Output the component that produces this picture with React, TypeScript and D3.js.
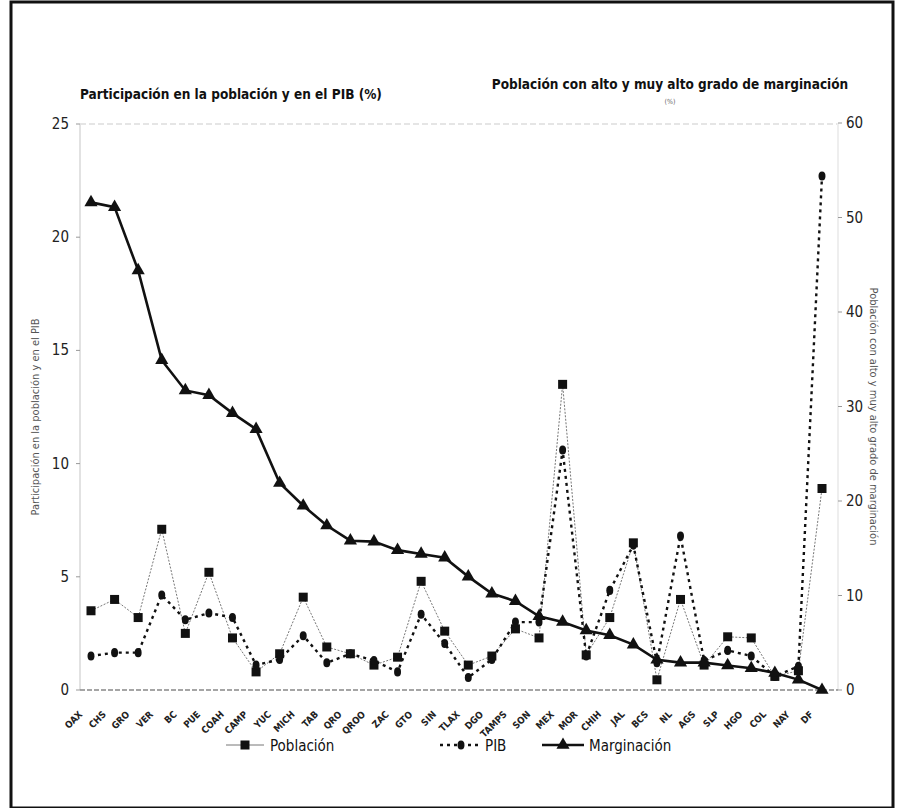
import React from "react";
import * as d3 from "d3";

const states = [
  "OAX", "CHS", "GRO", "VER", "BC", "PUE", "COAH", "CAMP", "YUC", "MICH", "TAB", "QRO",
  "QROO", "ZAC", "GTO", "SIN", "TLAX", "DGO", "TAMPS", "SON", "MEX", "MOR", "CHIH", "JAL",
  "BCS", "NL", "AGS", "SLP", "HGO", "COL", "NAY", "DF",
];

// Participación en la población (%)
const poblacion = [
  3.5, 4.0, 3.2, 7.1, 2.5, 5.2, 2.3, 0.8, 1.6, 4.1, 1.9, 1.6,
  1.1, 1.45, 4.8, 2.6, 1.1, 1.5, 2.7, 2.3, 13.5, 1.55, 3.2, 6.5,
  0.45, 4.0, 1.1, 2.35, 2.3, 0.6, 0.85, 8.9,
];

// Participación en el PIB (%)
const pib = [
  1.5, 1.65, 1.65, 4.2, 3.1, 3.4, 3.2, 1.1, 1.35, 2.4, 1.2, 1.6,
  1.3, 0.8, 3.35, 2.05, 0.55, 1.35, 3.0, 3.0, 10.6, 1.5, 4.4, 6.4,
  1.2, 6.8, 1.3, 1.75, 1.5, 0.6, 1.05, 22.7,
];

// Población con alto y muy alto grado de marginación (%)
const marginacion = [
  51.6, 51.1, 44.4, 34.9, 31.7, 31.2, 29.3, 27.6, 21.9, 19.5, 17.4, 15.8,
  15.7, 14.8, 14.4, 14.0, 12.0, 10.2, 9.4, 7.8, 7.2, 6.3, 5.8, 4.8,
  3.2, 2.9, 2.9, 2.6, 2.3, 1.8, 1.1, 0,
];

const leftTicks = [0, 5, 10, 15, 20, 25];
const rightTicks = [0, 10, 20, 30, 40, 50, 60];

const FONT = "'Liberation Sans Narrow', 'Arial Narrow', 'DejaVu Sans Condensed', sans-serif";

export default function App() {
  const W = 901;
  const H = 808;
  const axL = 80;
  const axR = 838;

  const x = d3.scalePoint<string>().domain(states).range([91, 822]);
  const yL = d3.scaleLinear().domain([0, 25]).range([690, 124]);
  const yR = d3.scaleLinear().domain([0, 60]).range([690, 123]);

  const linePob = d3
    .line<number>()
    .x((_, i) => x(states[i]) as number)
    .y((d) => yL(d));
  const lineMar = d3
    .line<number>()
    .x((_, i) => x(states[i]) as number)
    .y((d) => yR(d));

  const tri = d3.symbol().type(d3.symbolTriangle).size(75)() as string;
  const dia = d3.symbol().type(d3.symbolCircle).size(38)() as string;

  return (
    <svg width={W} height={H} style={{ display: "block", position: "absolute", left: 0, top: 0 }}>
      <rect x={0} y={0} width={W} height={H} fill="#fff" />
      {/* outer frame */}
      <rect x={11} y={2} width={882} height={806} fill="none" stroke="#111" strokeWidth={3} />

      {/* titles */}
      <text x={80} y={99} fontFamily={FONT} fontWeight="bold" fontSize={13.5} fill="#111">
        Participación en la población y en el PIB (%)
      </text>
      <text x={670} y={89} textAnchor="middle" fontFamily={FONT} fontWeight="bold" fontSize={13.5} fill="#111">
        Población con alto y muy alto grado de marginación
      </text>
      <text x={670} y={104} textAnchor="middle" fontFamily={FONT} fontSize={7} fill="#666">
        (%)
      </text>

      {/* top gridline and axes */}
      <line x1={axL} x2={axR} y1={yL(25)} y2={yL(25)} stroke="#ddd" strokeWidth={1.5} strokeDasharray="6 3" />
      <line x1={axL} x2={axL} y1={yL(25)} y2={yL(0)} stroke="#e2e2e2" strokeWidth={2} />
      <line x1={axR} x2={axR} y1={yR(60)} y2={yR(0)} stroke="#eee" strokeWidth={2} />
      <line x1={axL} x2={axR} y1={yL(0)} y2={yL(0)} stroke="#888" strokeWidth={1.5} strokeDasharray="5 2" />

      {/* left ticks */}
      {leftTicks.map((t) => (
        <g key={"l" + t}>
          <line x1={axL - 4} x2={axL} y1={yL(t)} y2={yL(t)} stroke="#999" />
          <text x={axL - 11} y={yL(t) + 5} textAnchor="end" fontFamily={FONT} fontSize={15} fill="#222">
            {t}
          </text>
        </g>
      ))}
      {/* right ticks */}
      {rightTicks.map((t) => (
        <g key={"r" + t}>
          <line x1={axR} x2={axR + 4} y1={yR(t)} y2={yR(t)} stroke="#999" />
          <text x={axR + 8} y={yR(t) + 5} textAnchor="start" fontFamily={FONT} fontSize={15} fill="#222">
            {t}
          </text>
        </g>
      ))}

      {/* axis titles */}
      <text
        transform={`translate(39, ${yL(12.5) + 10}) rotate(-90)`}
        textAnchor="middle"
        fontFamily={FONT}
        fontSize={11}
        fill="#555"
      >
        Participación en la población y en el PIB
      </text>
      <text
        transform={`translate(870, ${yR(30) + 10}) rotate(90)`}
        textAnchor="middle"
        fontFamily={FONT}
        fontSize={11}
        fill="#555"
      >
        Población con alto y muy alto grado de marginación
      </text>

      {/* x labels */}
      {states.map((s) => (
        <text
          key={"x" + s}
          transform={`translate(${(x(s) as number) - 8}, 715) rotate(-45)`}
          textAnchor="end"
          fontFamily={FONT}
          fontWeight="bold"
          fontSize={9.5}
          fill="#222"
        >
          {s}
        </text>
      ))}

      {/* Población */}
      <path d={linePob(poblacion) as string} fill="none" stroke="#777" strokeWidth={1} strokeDasharray="2 1.5" />
      {/* PIB */}
      <path d={linePob(pib) as string} fill="none" stroke="#111" strokeWidth={2.4} strokeDasharray="3 4" />
      {/* Marginación */}
      <path d={lineMar(marginacion) as string} fill="none" stroke="#111" strokeWidth={2.6} />

      {poblacion.map((v, i) => (
        <rect key={"p" + i} x={(x(states[i]) as number) - 4.5} y={yL(v) - 4.5} width={9} height={9} fill="#111" />
      ))}
      {pib.map((v, i) => (
        <path key={"b" + i} d={dia} transform={`translate(${x(states[i])}, ${yL(v)}) scale(1, 1.3)`} fill="#111" />
      ))}
      {marginacion.map((v, i) => (
        <path key={"m" + i} d={tri} transform={`translate(${x(states[i])}, ${yR(v)})`} fill="#111" />
      ))}

      {/* legend */}
      <g fontFamily={FONT} fontSize={15} fill="#111">
        <line x1={226} x2={264} y1={745} y2={745} stroke="#777" strokeWidth={1} />
        <rect x={240.5} y={740.5} width={9} height={9} fill="#111" />
        <text x={270} y={751}>Población</text>

        <line x1={440} x2={480} y1={745} y2={745} stroke="#111" strokeWidth={2.4} strokeDasharray="3 4" />
        <path d={dia} transform="translate(461, 745) scale(1, 1.3)" fill="#111" />
        <text x={485} y={751}>PIB</text>

        <line x1={542} x2={584} y1={745} y2={745} stroke="#111" strokeWidth={2.6} />
        <path d={tri} transform="translate(563, 745)" fill="#111" />
        <text x={589} y={751}>Marginación</text>
      </g>
    </svg>
  );
}
